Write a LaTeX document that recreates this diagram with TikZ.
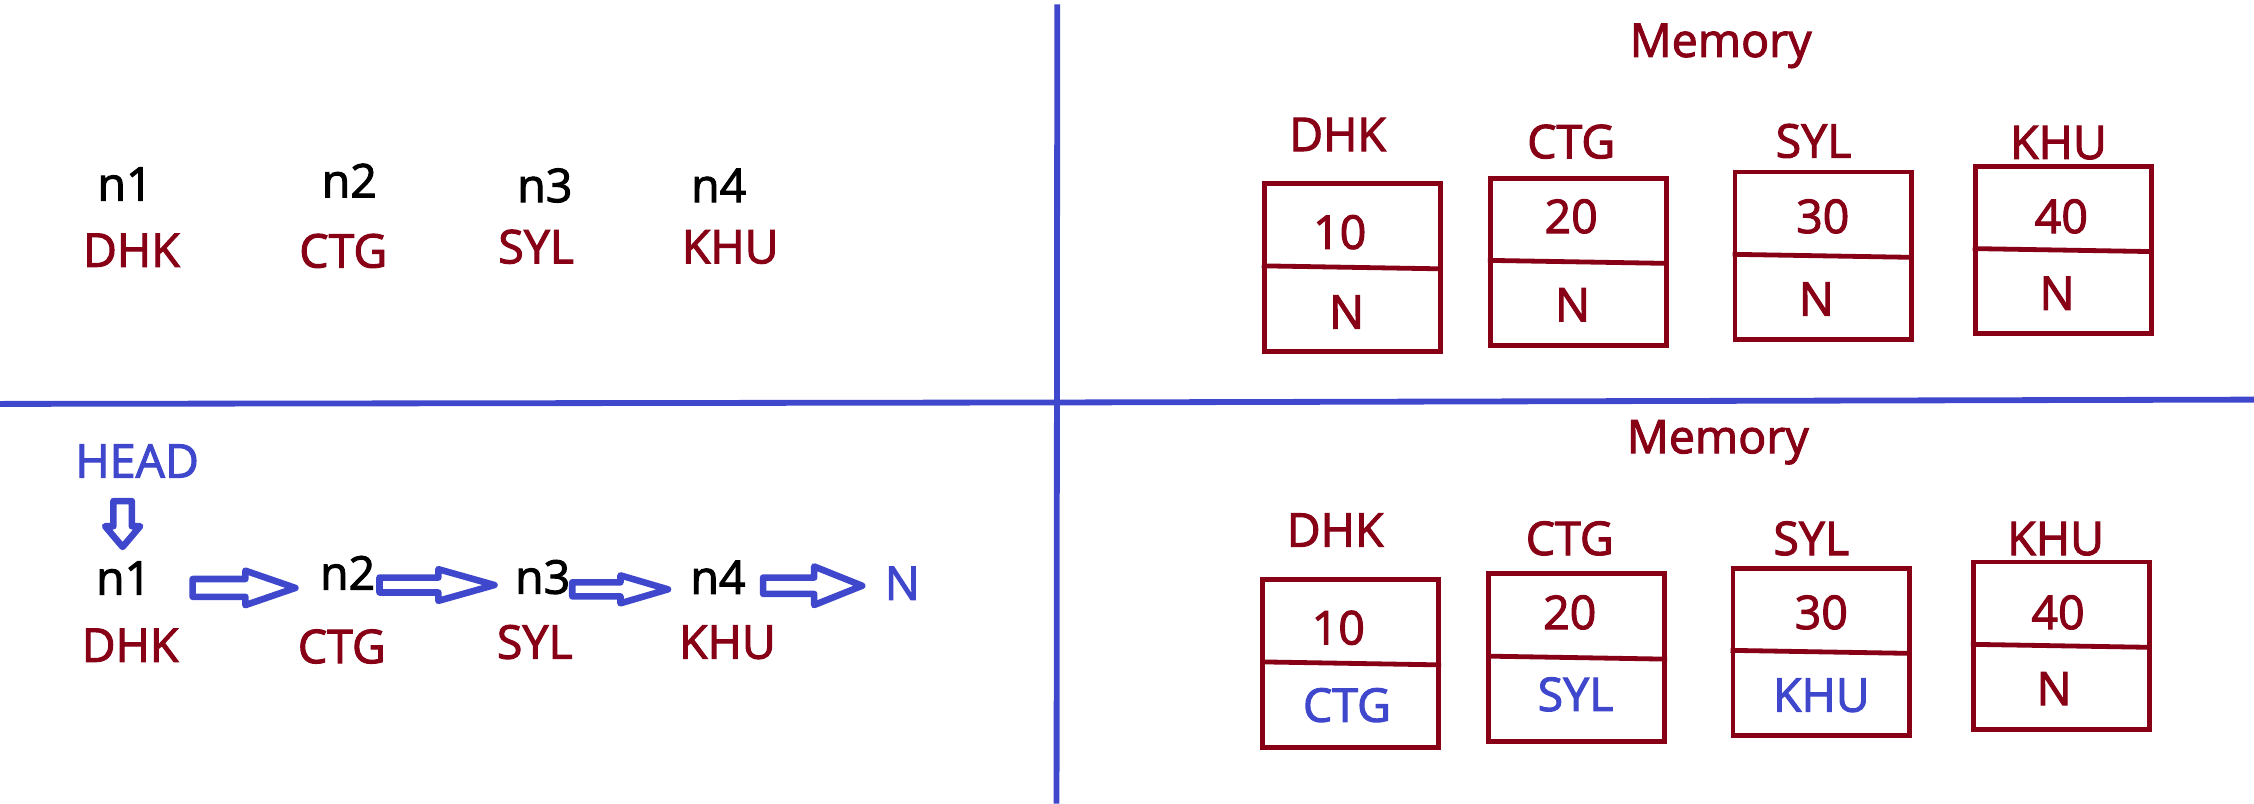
\documentclass[tikz,border=0pt]{standalone}
\usepackage{fontspec}
\setmainfont{Open Sans}[FakeBold=2.2]
\usetikzlibrary{calc}
\definecolor{darkred}{RGB}{136,0,21}
\definecolor{paintblue}{RGB}{63,72,204}

% hollow block arrow: start, end, shaft half width, head half width, head length
\newcommand{\hollowarrow}[5]{%
  \coordinate (bs) at #1;
  \coordinate (be) at #2;
  \coordinate (bh) at ($(be)!#5!(bs)$);
  \draw[blockarrow] ($(bs)!#3!90:(be)$) -- ($(bh)!#3!90:(be)$) -- ($(bh)!#4!90:(be)$) -- (be)
    -- ($(bh)!#4!-90:(be)$) -- ($(bh)!#3!-90:(be)$) -- ($(bs)!#3!-90:(be)$) -- cycle;
}

\begin{document}
\begin{tikzpicture}[x=0.01cm, y=-0.01cm,
  every node/.style={inner sep=0pt, text height=6.6pt, text depth=0pt, font=\fontsize{9.2}{11}\selectfont},
  city/.style={text=darkred},
  ptr/.style={text=paintblue},
  cell/.style={draw=darkred, line width=0.95pt, minimum width=1.225cm, minimum height=1.165cm},
  cellline/.style={draw=darkred, line width=0.95pt},
  wall/.style={draw=paintblue, line width=1.15pt},
  blockarrow/.style={draw=paintblue, line width=1.3pt, line join=round}]
\useasboundingbox (0,0) rectangle (1568,559);

% the four panels
\draw[wall] (735.5,3) -- (735,559);
\draw[wall] (0,281) -- (735,280) -- (1568,278);

% top left: plain variables
\node (tn1) at (87,128) {n1};
\node (tn2) at (243,125.7) {n2};
\node (tn3) at (379,129) {n3};
\node (tn4) at (500,129) {n4};
\node[city] (tc1) at (91.4,174) {DHK};
\node[city] (tc2) at (238.8,174.5) {CTG};
\node[city] (tc3) at (373,171.6) {SYL};
\node[city] (tc4) at (508,171.6) {KHU};

% top right: memory, nothing linked
\node[city] (mem1) at (1197,28) {Memory};
\node[city] (tl1) at (930.5,93.5) {DHK};
\node[city] (tl2) at (1093,98.5) {CTG};
\node[city] (tl3) at (1261.6,98) {SYL};
\node[city] (tl4) at (1432,99) {KHU};
\node[cell] (tb1) at (940.7,186) {};
\node[cell] (tb2) at (1098,182.2) {};
\node[cell] (tb3) at (1268.3,178) {};
\node[cell] (tb4) at (1435.3,174) {};
\draw[cellline] ([yshift=0.3pt]tb1.west) -- ([yshift=-0.3pt]tb1.east);
\draw[cellline] ([yshift=0.3pt]tb2.west) -- ([yshift=-0.3pt]tb2.east);
\draw[cellline] ([yshift=0.3pt]tb3.west) -- ([yshift=-0.3pt]tb3.east);
\draw[cellline] ([yshift=0.3pt]tb4.west) -- ([yshift=-0.3pt]tb4.east);
\node[city] (tv1) at (932,161.5) {10};
\node[city] (tv2) at (1093,150.5) {20};
\node[city] (tv3) at (1268,150.5) {30};
\node[city] (tv4) at (1434,150.5) {40};
\node[city] (tp1) at (936.8,217) {N};
\node[city] (tp2) at (1094,212) {N};
\node[city] (tp3) at (1263.6,208) {N};
\node[city] (tp4) at (1431,204) {N};

% bottom left: linked list
\node[ptr] (head) at (95.4,320.7) {HEAD};
\node (bn1) at (86,402) {n1};
\node (bn2) at (241.8,398.6) {n2};
\node (bn3) at (377.5,401.4) {n3};
\node (bn4) at (499.5,401.6) {n4};
\node[ptr] (nil) at (627.7,405.7) {N};
\node[city] (bc1) at (90.5,448.8) {DHK};
\node[city] (bc2) at (237.8,449.7) {CTG};
\node[city] (bc3) at (372,446.6) {SYL};
\node[city] (bc4) at (506,446.6) {KHU};
\hollowarrow{($(head)+(-10.1,27.9)$)}{($(bn1)+(-0.7,-21.5)$)}{1.82pt}{3.47pt}{4.1pt}
\hollowarrow{($(bn1)+(48,7)$)}{($(bn2)+(-36.3,10.4)$)}{1.76pt}{3.41pt}{9.9pt}
\hollowarrow{($(bn2)+(22.2,8.4)$)}{($(bn3)+(-33.5,5.6)$)}{1.48pt}{3.13pt}{11.1pt}
\hollowarrow{($(bn3)+(20.6,8.6)$)}{($(bn4)+(-34.8,8.4)$)}{1.39pt}{2.76pt}{9.4pt}
\hollowarrow{($(bn4)+(31.4,5.9)$)}{($(nil)+(-27.9,1.8)$)}{1.62pt}{3.81pt}{9.5pt}

% bottom right: memory, linked
\node[city] (mem2) at (1195,303.7) {Memory};
\node[city] (bl1) at (928.8,368.7) {DHK};
\node[city] (bl2) at (1092,374.5) {CTG};
\node[city] (bl3) at (1260,374.5) {SYL};
\node[city] (bl4) at (1430,374.5) {KHU};
\node[cell] (bb1) at (939.5,461.5) {};
\node[cell] (bb2) at (1096.8,457.5) {};
\node[cell] (bb3) at (1266.8,453.5) {};
\node[cell] (bb4) at (1434,449.3) {};
\draw[cellline] ([yshift=0.3pt]bb1.west) -- ([yshift=-0.3pt]bb1.east);
\draw[cellline] ([yshift=0.3pt]bb2.west) -- ([yshift=-0.3pt]bb2.east);
\draw[cellline] ([yshift=0.3pt]bb3.west) -- ([yshift=-0.3pt]bb3.east);
\draw[cellline] ([yshift=0.3pt]bb4.west) -- ([yshift=-0.3pt]bb4.east);
\node[city] (bv1) at (931,436.7) {10};
\node[city] (bv2) at (1092,426) {20};
\node[city] (bv3) at (1267,426) {30};
\node[city] (bv4) at (1431.7,426) {40};
\node[ptr] (bp1) at (937,490.5) {CTG};
\node[ptr] (bp2) at (1096,483) {SYL};
\node[ptr] (bp3) at (1267,483.5) {KHU};
\node[city] (bp4) at (1429,479) {N};
\end{tikzpicture}
\end{document}
